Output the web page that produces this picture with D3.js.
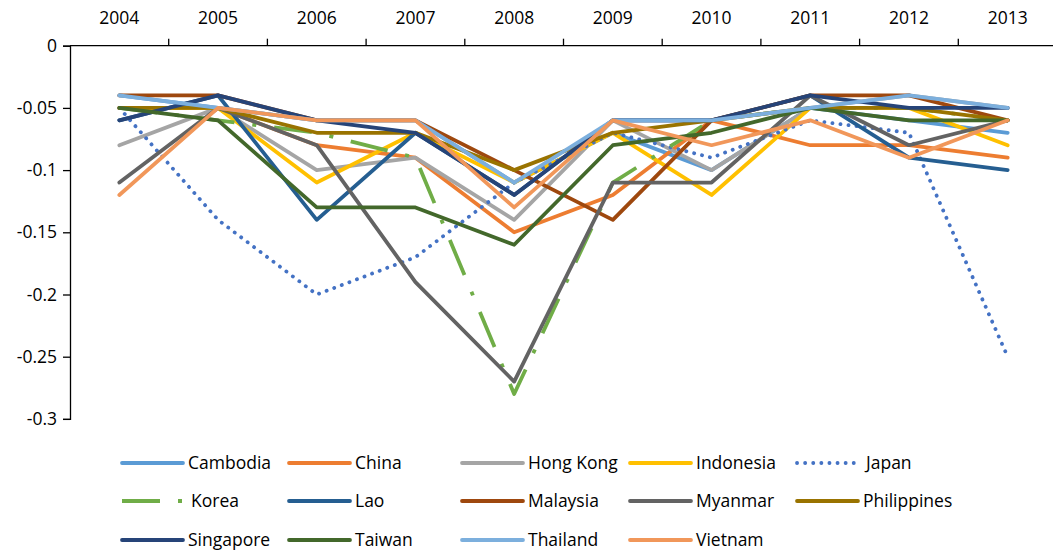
<!DOCTYPE html>
<html>
<head>
<meta charset="utf-8">
<script src="https://cdn.jsdelivr.net/npm/d3@7"></script>
<style>
  html, body { margin: 0; padding: 0; background: #fff; }
  svg { display: block; font-family: "Open Sans", "Liberation Sans", sans-serif; }
</style>
</head>
<body>
<svg id="chart" width="1053" height="555"></svg>
<script>
// Years along the top axis
const years = ["2004","2005","2006","2007","2008","2009","2010","2011","2012","2013"];
const yTicks = [0, -0.05, -0.1, -0.15, -0.2, -0.25, -0.3];
const yTickLabels = ["0", "-0.05", "-0.1", "-0.15", "-0.2", "-0.25", "-0.3"];

// Series values, one array per economy
const cambodia    = [-0.04,-0.05,-0.06,-0.06,-0.11,-0.07,-0.10,-0.05,-0.06,-0.07];
const china       = [-0.05,-0.05,-0.08,-0.09,-0.15,-0.12,-0.06,-0.08,-0.08,-0.09];
const hongKong    = [-0.08,-0.05,-0.10,-0.09,-0.14,-0.06,-0.10,-0.05,-0.04,-0.05];
const indonesia   = [-0.05,-0.05,-0.11,-0.07,-0.11,-0.07,-0.12,-0.05,-0.05,-0.08];
const japan       = [-0.05,-0.14,-0.20,-0.17,-0.11,-0.07,-0.09,-0.06,-0.07,-0.25];
const korea       = [-0.05,-0.06,-0.07,-0.09,-0.28,-0.11,-0.06,-0.05,-0.05,-0.06];
const lao         = [-0.06,-0.04,-0.14,-0.07,-0.12,-0.06,-0.06,-0.04,-0.09,-0.10];
const malaysia    = [-0.04,-0.04,-0.06,-0.06,-0.10,-0.14,-0.06,-0.04,-0.04,-0.06];
const myanmar     = [-0.11,-0.05,-0.08,-0.19,-0.27,-0.11,-0.11,-0.04,-0.08,-0.06];
const philippines = [-0.05,-0.05,-0.07,-0.07,-0.10,-0.07,-0.06,-0.05,-0.05,-0.06];
const singapore   = [-0.06,-0.04,-0.06,-0.07,-0.12,-0.06,-0.06,-0.04,-0.05,-0.05];
const taiwan      = [-0.05,-0.06,-0.13,-0.13,-0.16,-0.08,-0.07,-0.05,-0.06,-0.06];
const thailand    = [-0.04,-0.05,-0.06,-0.06,-0.11,-0.06,-0.06,-0.05,-0.04,-0.05];
const vietnam     = [-0.12,-0.05,-0.06,-0.06,-0.13,-0.06,-0.08,-0.06,-0.09,-0.06];

const names = ["Cambodia","China","Hong Kong","Indonesia","Japan","Korea","Lao","Malaysia",
               "Myanmar","Philippines","Singapore","Taiwan","Thailand","Vietnam"];
const values = [cambodia, china, hongKong, indonesia, japan, korea, lao, malaysia,
                myanmar, philippines, singapore, taiwan, thailand, vietnam];
const colors = ["#5B9BD5","#ED7D31","#A5A5A5","#FFC000","#4472C4","#70AD47","#255E91","#9E480E",
                "#636363","#997300","#264478","#43682B","#7CAFDD","#F1975A"];

const series = names.map((name, i) => ({
  name, color: colors[i], values: values[i],
  dash: name === "Japan" ? "dot" : name === "Korea" ? "dashdot" : "solid"
}));

const svg = d3.select("#chart");
const lineW = 3.8;
const fontSize = 17.5;

const x = d3.scaleBand().domain(years).range([70, 1057]).padding(0);
const y = d3.scaleLinear().domain([-0.3, 0]).range([418.9, 45.7]);
const cx = d => x(d) + x.bandwidth() / 2;

function applyDash(sel, s) {
  if (s.dash === "dot") {
    sel.attr("stroke-dasharray", "0.1 8").attr("stroke-linecap", "round");
  } else if (s.dash === "dashdot") {
    sel.attr("stroke-dasharray", "38 18 4 18").attr("stroke-linecap", "butt");
  } else {
    sel.attr("stroke-linecap", "round");
  }
}

// Series lines
const line = d3.line()
  .x((v, i) => cx(years[i]))
  .y(v => y(v));

const gLines = svg.append("g");
series.forEach(s => {
  const p = gLines.append("path")
    .datum(s.values)
    .attr("d", line)
    .attr("fill", "none")
    .attr("stroke", s.color)
    .attr("stroke-width", lineW)
    .attr("stroke-linejoin", "round");
  applyDash(p, s);
});

// Top category axis
const xAxis = svg.append("g").attr("transform", `translate(0,${y(0)})`);
xAxis.append("line")
  .attr("x1", 70).attr("x2", 1053)
  .attr("stroke", "#000").attr("stroke-width", 1.3);
xAxis.selectAll("line.tick")
  .data(years.slice(1))
  .join("line")
  .attr("class", "tick")
  .attr("x1", d => x(d)).attr("x2", d => x(d))
  .attr("y1", 0).attr("y2", -7)
  .attr("stroke", "#000").attr("stroke-width", 1.3);
svg.append("g").selectAll("text")
  .data(years)
  .join("text")
  .attr("x", d => cx(d))
  .attr("y", 24)
  .attr("text-anchor", "middle")
  .attr("font-size", fontSize)
  .attr("fill", "#000")
  .text(d => d);

// Left value axis
const yAxis = d3.axisLeft(y)
  .tickValues(yTicks)
  .tickSize(7)
  .tickFormat((d, i) => yTickLabels[i]);
const gy = svg.append("g")
  .attr("transform", "translate(70,0)")
  .call(yAxis);
gy.select(".domain").attr("stroke", "#000").attr("stroke-width", 1.3);
gy.selectAll(".tick line").attr("stroke", "#000").attr("stroke-width", 1.3);
gy.selectAll(".tick text")
  .attr("font-size", fontSize)
  .attr("font-family", "\"Open Sans\", sans-serif")
  .attr("fill", "#000")
  .attr("x", -13);

// Legend: five columns, three rows
const legCols = [122, 289, 462, 630, 797];
const legRows = [463, 501, 540];
const legend = svg.append("g");
series.forEach((s, i) => {
  const lx = legCols[i % 5], ly = legRows[Math.floor(i / 5)];
  const g = legend.append("g").attr("transform", `translate(${lx},${ly})`);
  const l = g.append("line")
    .attr("x1", 0).attr("x2", 61)
    .attr("y1", 0).attr("y2", 0)
    .attr("stroke", s.color)
    .attr("stroke-width", lineW);
  applyDash(l, s);
  g.append("text")
    .attr("x", s.name === "Japan" || s.name === "Korea" ? 69 : 66)
    .attr("y", 0)
    .attr("dy", "0.35em")
    .attr("font-size", fontSize)
    .attr("fill", "#000")
    .text(s.name);
});
</script>
</body>
</html>
